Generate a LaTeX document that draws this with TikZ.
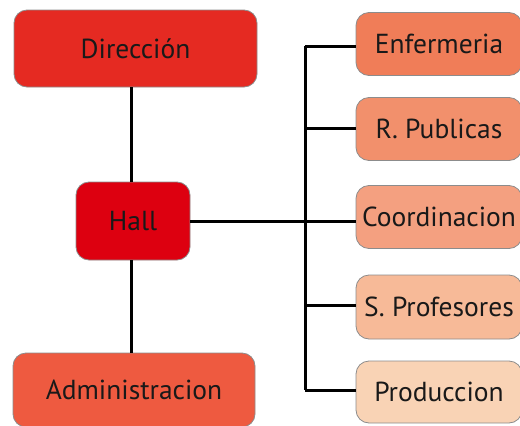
\documentclass[tikz,border=0pt]{standalone}
\usepackage{fontspec}
\setmainfont{PT Sans}
\begin{document}
\begin{tikzpicture}[x=1pt,y=-1pt,
  box/.style={draw=black!45, line width=0.8pt, rounded corners=13pt, inner sep=0pt, font=\fontsize{27.5}{30}\selectfont, text=black!90},
  link/.style={line width=3pt, black}]
\useasboundingbox (0,0) rectangle (520,426);
\definecolor{cdir}{HTML}{E52A22}
\definecolor{chall}{HTML}{DD0010}
\definecolor{cadm}{HTML}{EE5A40}
\definecolor{cenf}{HTML}{F07D58}
\definecolor{crp}{HTML}{F2906C}
\definecolor{ccoo}{HTML}{F4A080}
\definecolor{cspr}{HTML}{F7BA98}
\definecolor{cpro}{HTML}{F9D3B5}
\node[box, fill=cdir, minimum width=243pt, minimum height=77pt] (dir) at (135.5,48.5) {Dirección};
\node[box, fill=chall, minimum width=114pt, minimum height=78pt] (hall) at (133,221) {Hall};
\node[box, fill=cadm, minimum width=242pt, minimum height=74pt] (adm) at (134,390) {Administracion};
\node[box, fill=cenf, minimum width=166pt, minimum height=63pt] (enf) at (439,44) {Enfermeria};
\node[box, fill=crp, minimum width=166pt, minimum height=63pt] (rp) at (439,129) {R. Publicas};
\node[box, fill=ccoo, minimum width=166pt, minimum height=63pt] (coo) at (439,217) {Coordinacion};
\node[box, fill=cspr, minimum width=166pt, minimum height=64pt] (spr) at (439,307) {S. Profesores};
\node[box, fill=cpro, minimum width=166pt, minimum height=62pt] (pro) at (439,392) {Produccion};
\coordinate (bt) at (305,46);
\coordinate (bb) at (305,390);
\draw[link] (dir.south -| 131,0) -- (hall.north -| 131,0);
\draw[link] (hall.south -| 131,0) -- (adm.north -| 131,0);
\draw[link] (hall.east) -- (hall.east -| coo.west);
\draw[link] (bt) -- (bb);
\draw[link] (bt) -- (enf.west |- bt);
\draw[link] (305,128) -- (rp.west |- 0,128);
\draw[link] (305,305) -- (spr.west |- 0,305);
\draw[link] (bb) -- (pro.west |- bb);
\end{tikzpicture}
\end{document}
